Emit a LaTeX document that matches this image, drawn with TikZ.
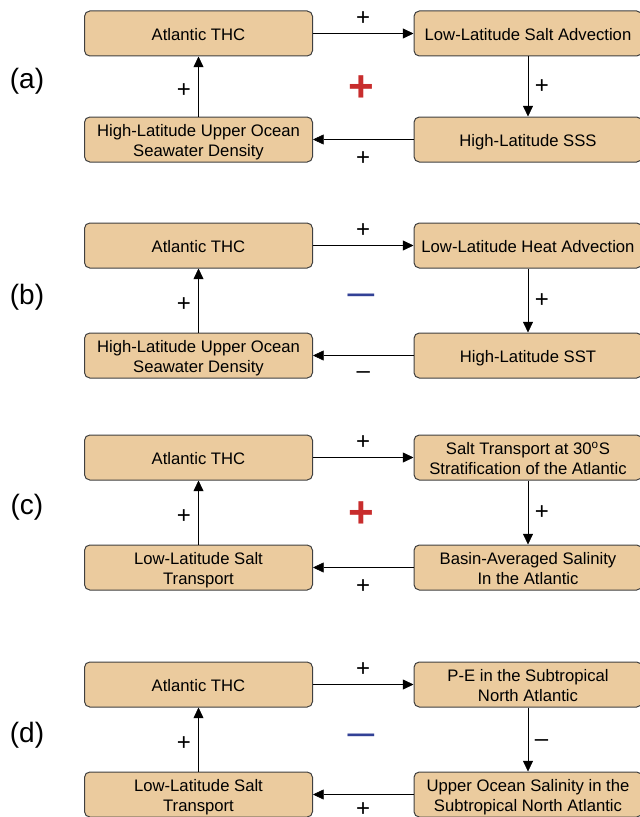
\documentclass[tikz,border=0pt]{standalone}
\usepackage{fontspec}
\setmainfont{Liberation Sans}
\usetikzlibrary{arrows.meta}
\definecolor{boxtan}{RGB}{235,203,158}
\definecolor{loopred}{RGB}{200,45,45}
\definecolor{loopblue}{RGB}{50,65,150}

\begin{document}
\begin{tikzpicture}
[x=0.75pt,y=-0.75pt,
 box/.style={rectangle,rounded corners=4pt,draw=black!75,fill=boxtan,line width=0.75pt,minimum width=171pt,minimum height=33.75pt,align=center,inner sep=1pt,text height=10.5pt,text depth=0pt,font=\fontsize{12.5}{15}\selectfont},
 twoline/.style={text height=25.5pt},
 sign/.style={font=\fontsize{18}{20}\selectfont,inner sep=0pt},
 tag/.style={font=\fontsize{21}{24}\selectfont,inner sep=0pt},
 posloop/.style={text=loopred,font=\fontsize{33}{36}\selectfont\bfseries,inner sep=0pt},
 negloop/.style={text=loopblue,font=\fontsize{20}{24}\selectfont\bfseries,inner sep=0pt},
 >={Triangle[length=8pt,width=7.5pt]}]
\useasboundingbox (0,0) rectangle (639,817);

\node (a1) at (198.5,33.5) [box] {Atlantic THC};
\node (a2) at (528,33.5) [box] {Low-Latitude Salt Advection};
\node (a3) at (528,139.5) [box] {High-Latitude SSS};
\node (a4) at (198.5,139.5) [box,twoline] {High-Latitude Upper Ocean\\Seawater Density};
\node (ta) at (27,81) [tag] {(a)};
\node (la) at (361,89) [posloop] {+};
\draw [->] (a1) -- node [sign,above=6pt] {+} (a2);
\draw [->] (a2) -- node [sign,right=5pt] {+} (a3);
\draw [->] (a3) -- node [sign,below=9pt] {+} (a4);
\draw [->] (a4) -- node [sign,left=5.5pt,pos=0.43] {+} (a1);

\node (b1) at (198.5,245.5) [box] {Atlantic THC};
\node (b2) at (528,245.5) [box] {Low-Latitude Heat Advection};
\node (b3) at (528,355.5) [box] {High-Latitude SST};
\node (b4) at (198.5,355.5) [box,twoline] {High-Latitude Upper Ocean\\Seawater Density};
\node (tb) at (27,297) [tag] {(b)};
\node (lb) at (361,298) [negloop] {\textemdash};
\draw [->] (b1) -- node [sign,above=6pt] {+} (b2);
\draw [->] (b2) -- node [sign,right=5pt] {+} (b3);
\draw [->] (b3) -- node [sign,below=12pt] {\textendash} (b4);
\draw [->] (b4) -- node [sign,left=5.5pt,pos=0.43] {+} (b1);

\node (c1) at (198.5,457.5) [box] {Atlantic THC};
\node (c2) at (528,457.5) [box,twoline] {Salt Transport at 30\textsuperscript{o}S\\Stratification of the Atlantic};
\node (c3) at (528,567.5) [box,twoline] {Basin-Averaged Salinity\\In the Atlantic};
\node (c4) at (198.5,567.5) [box,twoline] {Low-Latitude Salt\\Transport};
\node (tc) at (27,507) [tag] {(c)};
\node (lc) at (361,515) [posloop] {+};
\draw [->] (c1) -- node [sign,above=6pt] {+} (c2);
\draw [->] (c2) -- node [sign,right=5pt] {+} (c3);
\draw [->] (c3) -- node [sign,below=9pt] {+} (c4);
\draw [->] (c4) -- node [sign,left=5.5pt,pos=0.43] {+} (c1);

\node (d1) at (198.5,684.5) [box] {Atlantic THC};
\node (d2) at (528,684.5) [box,twoline] {P-E in the Subtropical\\North Atlantic};
\node (d3) at (528,794.5) [box,twoline] {Upper Ocean Salinity in the\\Subtropical North Atlantic};
\node (d4) at (198.5,794.5) [box,twoline] {Low-Latitude Salt\\Transport};
\node (td) at (27,735) [tag] {(d)};
\node (ld) at (361,738) [negloop] {\textemdash};
\draw [->] (d1) -- node [sign,above=6pt] {+} (d2);
\draw [->] (d2) -- node [sign,right=5pt,pos=0.55] {\textendash} (d3);
\draw [->] (d3) -- node [sign,below=6pt] {+} (d4);
\draw [->] (d4) -- node [sign,left=5.5pt,pos=0.43] {+} (d1);
\end{tikzpicture}
\end{document}
